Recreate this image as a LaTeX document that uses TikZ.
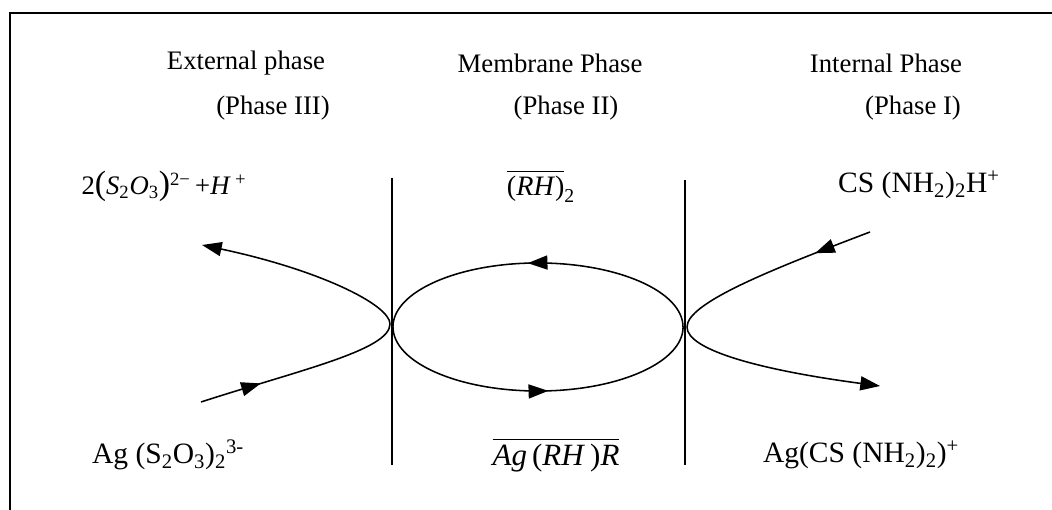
\documentclass[tikz,border=0pt]{standalone}
\usepackage{amsmath}
\usepackage{fontspec}
\setmainfont{Liberation Serif}
\usetikzlibrary{arrows.meta,decorations.markings}

\begin{document}
\begin{tikzpicture}[x=0.025cm,y=0.025cm,
        phase/.style={font=\fontsize{19}{21}\selectfont},
        species/.style={font=\fontsize{21}{24}\selectfont},
        flow/.style={line width=1.1pt},
        tip/.style={-{Triangle[length=14pt,width=10pt]}},
        midtip/.style={postaction={decorate},decoration={markings,
            mark=at position #1 with {\arrow{Triangle[length=14pt,width=10pt]}}}}]
        \useasboundingbox (0,0) rectangle (1052,510);
        % frame (cut off at right and bottom)
        \draw[line width=1.4pt] (10,0) -- (10,497) -- (1052,497);

        % phase headings
        \node[phase] (ext)  at (246,447) {External phase};
        \node[phase] (extn) at (273,402) {(Phase III)};
        \node[phase] (mem)  at (550,447) {Membrane Phase};
        \node[phase] (memn) at (566,402) {(Phase II)};
        \node[phase] (int)  at (886,447) {Internal Phase};
        \node[phase] (intn) at (913,402) {(Phase I)};

        % membrane walls
        \coordinate (w1t) at (392,332);
        \coordinate (w1b) at (392,45);
        \coordinate (w2t) at (685,330);
        \coordinate (w2b) at (685,45);
        \draw[line width=1.3pt] (w1t) -- (w1b);
        \draw[line width=1.3pt] (w2t) -- (w2b);

        % species
        \node[species,font=\fontsize{19}{22}\selectfont] (thio) at (164,324)
            {2{\fontsize{24}{24}\selectfont(}\textit{S}\textsubscript{2}\textit{O}\textsubscript{3}{\fontsize{24}{24}\selectfont)}\textsuperscript{2\char"2212}\,+\textit{H}\,\textsuperscript{+}};
        \node[species,font=\fontsize{20}{22}\selectfont] (rh) at (541,324) {$\overline{\text{(\textit{RH})}}_{\text{2}}$};
        \node[species] (thiou) at (919,325) {CS (NH\textsubscript{2})\textsubscript{2}H\textsuperscript{+}};
        \node[species] (agthio) at (168,55) {Ag (S\textsubscript{2}O\textsubscript{3})\textsubscript{2}\textsuperscript{3-}};
        \node[species,font=\fontsize{22}{24}\selectfont] (agrh) at (556,55) {$\overline{\text{\textit{Ag}\,(\textit{RH}\,)\textit{R}}}$};
        \node[species] (agthiou) at (861,55) {Ag(CS (NH\textsubscript{2})\textsubscript{2})\textsuperscript{+}};

        % external interface
        \coordinate (lA) at (201,108);
        \coordinate (lV) at (390,186);
        \coordinate (lB) at (202,265);
        \draw[flow,midtip=0.3] (lA) .. controls (300,140) and (390,160) .. (lV);
        \draw[flow,tip] (lV) .. controls (390,205) and (320,240) .. (lB);

        % membrane cycle
        \coordinate (eR) at (683,183);
        \coordinate (eL) at (393,183);
        \draw[flow,midtip=0.53] (eR) arc[start angle=0,end angle=180,x radius=3.625cm,y radius=1.6cm];
        \draw[flow,midtip=0.53] (eL) arc[start angle=180,end angle=360,x radius=3.625cm,y radius=1.6cm];

        % internal interface
        \coordinate (rA) at (870,278);
        \coordinate (rV) at (687,183);
        \coordinate (rB) at (880,124);
        \draw[flow,midtip=0.28] (rA) .. controls (770,240) and (687,207) .. (rV);
        \draw[flow,tip] (rV) .. controls (687,160) and (760,140) .. (rB);
\end{tikzpicture}
\end{document}
